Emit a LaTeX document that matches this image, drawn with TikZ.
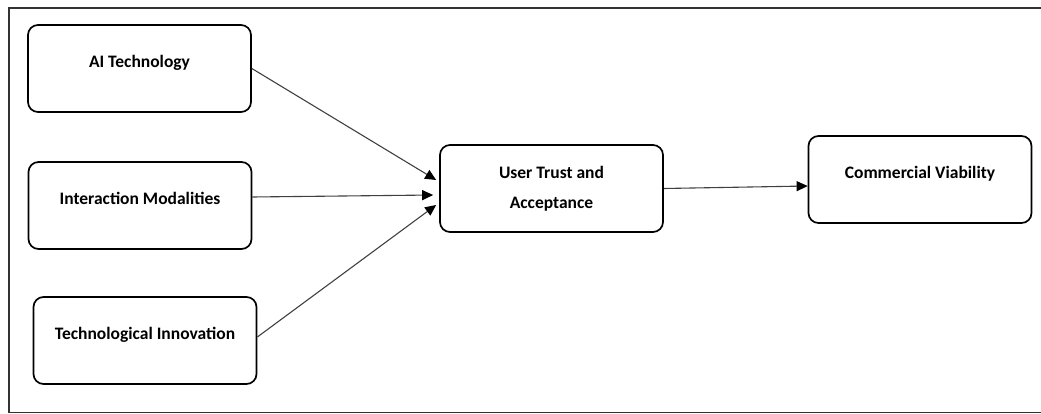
\documentclass[tikz,border=0pt]{standalone}
\usepackage{fontspec}
\setmainfont{Carlito}
\usetikzlibrary{positioning,calc,arrows.meta}

\begin{document}
\begin{tikzpicture}[x=1pt, y=-1pt, >={Triangle[length=11pt,width=10pt,color=black]},
	factor/.style={draw, rounded corners=10pt, line width=1.7pt, minimum width=223pt, minimum height=87pt,
		font=\fontsize{17.5}{30}\selectfont\bfseries, align=center},
	oneline/.style={text height=12pt, text depth=13.8pt},
	link/.style={->, line width=1.1pt, draw=black!75}]
	\useasboundingbox (0,0) rectangle (1041,414);
	% Cadre
	\draw[line width=1.5pt, draw=black!80] (1045,8) -- (9,8) -- (9,412.5) -- (1045,412.5);
	
	% Facteurs
	\node[factor, oneline] (ai) at (139.5, 68.5) {AI Technology};
	\node[factor, oneline] (im) at (140, 205.5) {Interaction Modalities};
	\node[factor, oneline] (ti) at (145, 340.5) {Technological Innovation};
	
	% Confiance et viabilite
	\node[factor] (ut) at (551.5, 188.5) {User Trust and\\Acceptance};
	\node[factor, oneline] (cv) at (920, 179.5) {Commercial Viability};
	
	% Fleches
	\draw[link] (ai.east) -- ($(ut.west)+(-3,-8.5)$);
	\draw[link] ($(im.east)+(0,-8.5)$) -- ($(ut.west)+(-6,6.5)$);
	\draw[link] ($(ti.east)+(0,-3.5)$) -- ($(ut.west)+(-3,16.5)$);
	\draw[link] (ut.east) -- ($(cv.west)+(0,6.5)$);
\end{tikzpicture}
\end{document}
